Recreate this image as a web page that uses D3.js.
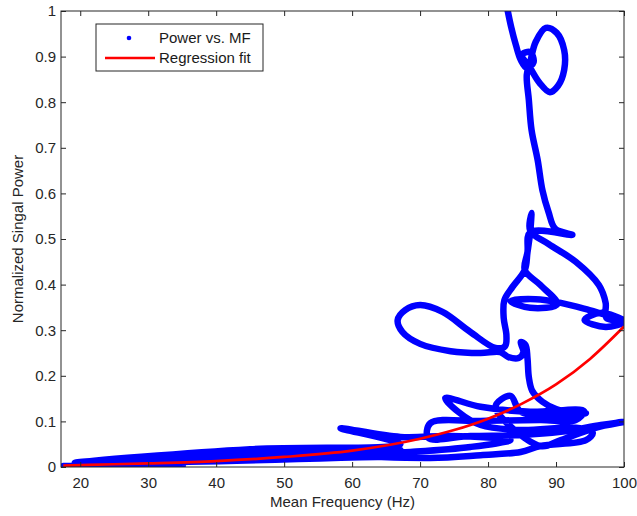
<!DOCTYPE html>
<html>
<head>
<meta charset="utf-8">
<script src="https://cdn.jsdelivr.net/npm/d3@7"></script>
<style>
  body { margin: 0; background: #fff; }
  svg text { font-family: "Liberation Sans", Arial, sans-serif; }
</style>
</head>
<body>
<svg id="plot" width="637" height="516"></svg>
<script>
// mean frequency (Hz) / normalized power, traced along the trajectory
var mf = [17.5, 35.1, 24.4, 46.5, 67.1, 30.3, 52.4, 67.1, 19.2, 45.0, 67.1, 58.3, 67.1, 74.5, 83.3,
  77.4, 68.6, 59.7, 71.5, 78.9, 84.8, 87.7, 94.4, 95.4, 92.9, 84.8, 78.9, 75.6, 73.7, 78.9,
  86.2, 94.1, 92.9, 87.7, 78.9, 71.5, 71.2, 77.4, 84.8, 90.7, 96.6, 100, 95.8, 90.7, 87.7,
  81.1, 83.3, 84.8, 90.7, 94.4, 92.3, 90.0, 88.0, 86.5, 86.0, 85.8, 85.5,
  84.8, 85.2, 84.5, 83.0, 81.8, 78.9, 74.5, 70.0, 67.4, 66.7, 67.8, 70.0, 73.3, 77.4, 81.1,
  82.5, 82.7, 82.3, 82.4, 83.6, 85.4, 85.8, 86.2, 86.4, 86.2, 88.9, 92.9, 96.3, 97.3, 97.4,
  100, 97.3, 94.2, 96.6, 100, 94.9, 90.7, 87.0, 83.3, 86.2, 90.2, 87.7, 85.4, 85.8, 86.2,
  92.4, 89.9, 88.9, 88.0, 87.3, 86.4, 86.0, 85.7, 86.2, 87.0, 88.5, 90.1, 91.2, 91.2, 90.3,
  89.1, 87.6, 86.2, 85.0, 86.2, 86.7, 85.7, 84.8, 84.1, 83.4, 82.9];
var power = [0.002, 0.004, 0.009, 0.020, 0.024, 0.011, 0.031, 0.037, 0.009, 0.039, 0.050, 0.085, 0.066, 0.068, 0.059,
  0.044, 0.033, 0.026, 0.020, 0.026, 0.033, 0.046, 0.059, 0.075, 0.086, 0.081, 0.092, 0.121, 0.151, 0.132,
  0.121, 0.123, 0.103, 0.103, 0.101, 0.096, 0.064, 0.068, 0.070, 0.077, 0.092, 0.099, 0.086, 0.059, 0.046,
  0.132, 0.156, 0.121, 0.112, 0.118, 0.118, 0.127, 0.143, 0.167, 0.197, 0.239, 0.268,
  0.274, 0.252, 0.239, 0.241, 0.252, 0.250, 0.254, 0.270, 0.296, 0.322, 0.344, 0.355, 0.340, 0.296, 0.261,
  0.265, 0.289, 0.327, 0.366, 0.395, 0.432, 0.471, 0.515, 0.557, 0.518, 0.489, 0.450, 0.399, 0.360, 0.327,
  0.318, 0.307, 0.322, 0.338, 0.322, 0.344, 0.360, 0.368, 0.364, 0.349, 0.357, 0.399, 0.432, 0.471, 0.515,
  0.509, 0.522, 0.559, 0.607, 0.673, 0.739, 0.805, 0.860, 0.888, 0.932, 0.963, 0.952, 0.914, 0.871, 0.836,
  0.822, 0.842, 0.875, 0.904, 0.910, 0.888, 0.875, 0.893, 0.925, 0.965, 1.000];

// regression fit
var fitX = [17.5, 25, 30, 40, 50, 60, 70, 75, 80, 85, 90, 95, 100];
var fitY = [0.003, 0.006, 0.008, 0.013, 0.022, 0.036, 0.062, 0.081, 0.106, 0.139, 0.181, 0.237, 0.308];

var xTicks = [20, 30, 40, 50, 60, 70, 80, 90, 100];
var yTicks = [0, 0.1, 0.2, 0.3, 0.4, 0.5, 0.6, 0.7, 0.8, 0.9, 1];
var seriesNames = ["Power vs. MF", "Regression fit"];

var svg = d3.select("#plot"),
    margin = {top: 11, right: 13, bottom: 49, left: 61},
    width = 637 - margin.left - margin.right,
    height = 516 - margin.top - margin.bottom,
    g = svg.append("g").attr("transform", "translate(" + margin.left + "," + margin.top + ")");

var x = d3.scaleLinear().domain([17.17, 100]).range([0, width]);
var y = d3.scaleLinear().domain([0, 1]).range([height, 0]);

g.append("defs").append("clipPath").attr("id", "clip")
  .append("rect").attr("width", width).attr("height", height);

var pts = mf.map(function(d, i) { return [d, power[i]]; });
var fit = fitX.map(function(d, i) { return [d, fitY[i]]; });

var line = d3.line()
  .x(function(d) { return x(d[0]); })
  .y(function(d) { return y(d[1]); })
  .curve(d3.curveCatmullRom.alpha(0.5));

var plot = g.append("g").attr("clip-path", "url(#clip)");
plot.append("path")
  .datum(pts)
  .attr("d", line)
  .attr("fill", "none")
  .attr("stroke", "#0000ff")
  .attr("stroke-width", 6.5)
  .attr("stroke-linejoin", "round")
  .attr("stroke-linecap", "round");

plot.append("path")
  .datum(fit)
  .attr("d", line.curve(d3.curveMonotoneX))
  .attr("fill", "none")
  .attr("stroke", "#ff0000")
  .attr("stroke-width", 2.7);

// axes, MATLAB style: ticks inside, mirrored on all sides
var axColor = "#262626";
function styleAxis(sel) {
  sel.select(".domain").remove();
  sel.selectAll("line").attr("stroke", axColor);
  sel.selectAll("text").attr("fill", "#262626").style("font-size", "15px");
}
g.append("g").attr("transform", "translate(0," + height + ")")
  .call(d3.axisBottom(x).tickValues(xTicks).tickSizeInner(-5).tickSizeOuter(0).tickPadding(10))
  .call(styleAxis);
g.append("g")
  .call(d3.axisTop(x).tickValues(xTicks).tickSizeInner(-5).tickSizeOuter(0).tickFormat(""))
  .call(styleAxis);
g.append("g")
  .call(d3.axisLeft(y).tickValues(yTicks).tickSizeInner(-5).tickSizeOuter(0).tickPadding(5)
    .tickFormat(function(d) { return d === 0 || d === 1 ? d3.format("d")(d) : d3.format(".1f")(d); }))
  .call(styleAxis);
g.append("g").attr("transform", "translate(" + width + ",0)")
  .call(d3.axisRight(y).tickValues(yTicks).tickSizeInner(-5).tickSizeOuter(0).tickFormat(""))
  .call(styleAxis);

g.append("rect")
  .attr("width", width).attr("height", height)
  .attr("fill", "none").attr("stroke", axColor).attr("stroke-width", 1);

// labels
svg.append("text")
  .attr("x", margin.left + width / 2).attr("y", 507)
  .attr("text-anchor", "middle").style("font-size", "15px").attr("fill", "#262626")
  .text("Mean Frequency (Hz)");
svg.append("text")
  .attr("transform", "translate(23," + (margin.top + height / 2) + ") rotate(-90)")
  .attr("text-anchor", "middle").style("font-size", "15px").attr("fill", "#262626")
  .text("Normalized Singal Power");

// legend
var lg = svg.append("g").attr("transform", "translate(96,24)");
lg.append("rect").attr("width", 167).attr("height", 47)
  .attr("fill", "#fff").attr("stroke", axColor).attr("stroke-width", 1);
lg.append("circle").attr("cx", 33).attr("cy", 14).attr("r", 2.3).attr("fill", "#0000ff");
lg.append("line").attr("x1", 9).attr("x2", 59).attr("y1", 34).attr("y2", 34)
  .attr("stroke", "#ff0000").attr("stroke-width", 2.7);
lg.selectAll("text.leg").data(seriesNames).enter().append("text")
  .attr("class", "leg")
  .attr("x", 63).attr("y", function(d, i) { return 19 + i * 20; })
  .style("font-size", "15px").attr("fill", "#1a1a1a")
  .text(function(d) { return d; });
</script>
</body>
</html>
